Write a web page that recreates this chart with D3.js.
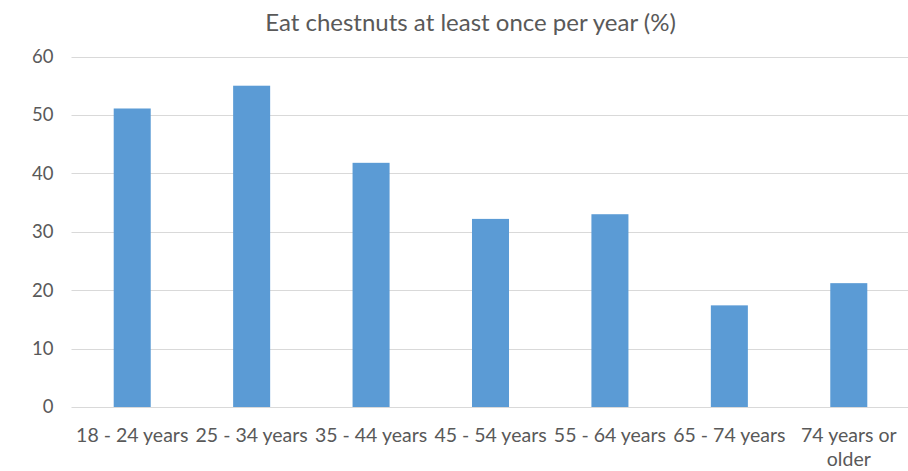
<!DOCTYPE html>
<html>
<head>
<meta charset="utf-8">
<script src="https://cdn.jsdelivr.net/npm/d3@7"></script>
<style>
  html, body { margin: 0; padding: 0; background: #fff; }
  svg text { font-family: Lato, "Open Sans", sans-serif; fill: #595959; }
</style>
</head>
<body>
<svg id="chart" width="908" height="471"></svg>
<script>
// Share of respondents eating chestnuts at least once per year, by age group
const categories = ["18 - 24 years", "25 - 34 years", "35 - 44 years", "45 - 54 years",
                    "55 - 64 years", "65 - 74 years", "74 years or older"];
const values = [51.1, 55.0, 41.8, 32.2, 33.0, 17.4, 21.2];
const yTicks = [0, 10, 20, 30, 40, 50, 60];
const title = "Eat chestnuts at least once per year (%)";

const svg = d3.select("#chart");
const plotLeft = 72.5, plotRight = 908.5, plotTop = 56.5, plotBottom = 407;
const catFont = 19.5, tickFont = 18.5;

const x = d3.scaleBand().domain(categories).range([plotLeft, plotRight]).padding(0);
const y = d3.scaleLinear().domain([0, 60]).range([plotBottom, plotTop]);

// horizontal gridlines
svg.append("g").selectAll("line").data(yTicks).join("line")
  .attr("x1", plotLeft - 1).attr("x2", 908)
  .attr("y1", d => Math.round(y(d)) + 0.5).attr("y2", d => Math.round(y(d)) + 0.5)
  .attr("stroke", "#d9d9d9").attr("stroke-width", 1);

// y axis labels
const yAxis = svg.append("g").attr("transform", `translate(${plotLeft},0)`)
  .call(d3.axisLeft(y).tickValues(yTicks).tickSize(0).tickPadding(19));
yAxis.select(".domain").remove();
yAxis.selectAll("text").attr("font-size", tickFont).attr("fill", "#595959")
  .style("font-family", "Lato, 'Open Sans', sans-serif");

// bars
const barW = x.bandwidth() * 0.31;
svg.append("g").selectAll("rect").data(values).join("rect")
  .attr("x", (d, i) => x(categories[i]) + (x.bandwidth() - barW) / 2)
  .attr("width", barW)
  .attr("y", d => y(d))
  .attr("height", d => y(0) - y(d))
  .attr("fill", "#5b9bd5");

// category axis with wrapped labels
const xAxis = svg.append("g").attr("transform", `translate(0,${plotBottom})`)
  .call(d3.axisBottom(x).tickSize(0).tickPadding(0));
xAxis.select(".domain").remove();
xAxis.selectAll("text").attr("font-size", catFont).attr("fill", "#595959")
  .style("font-family", "Lato, 'Open Sans', sans-serif")
  .attr("y", 35).attr("dy", null)
  .each(function(d) {
    const t = d3.select(this);
    const maxW = x.bandwidth() - 6;
    const words = d.split(" ");
    t.text(null);
    let line = [];
    let tspan = t.append("tspan").attr("x", 0).attr("dy", 0);
    for (const w of words) {
      line.push(w);
      tspan.text(line.join(" "));
      if (tspan.node().getComputedTextLength() > maxW && line.length > 1) {
        line.pop();
        tspan.text(line.join(" "));
        line = [w];
        tspan = t.append("tspan").attr("x", 0).attr("dy", 23.5).text(w);
      }
    }
  });

// title
svg.append("text").attr("x", 470.5).attr("y", 31)
  .attr("text-anchor", "middle").attr("font-size", 24)
  .text(title);
</script>
</body>
</html>
